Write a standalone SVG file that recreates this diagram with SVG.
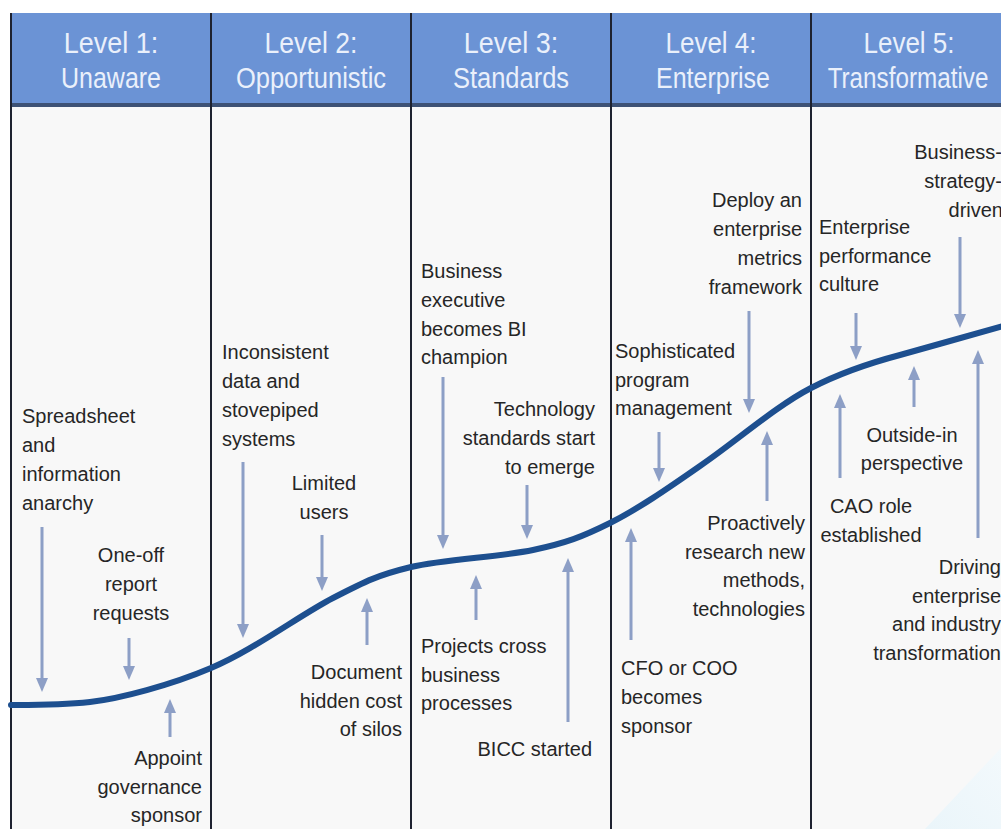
<svg xmlns="http://www.w3.org/2000/svg" width="1001" height="829" viewBox="0 0 1001 829">
  <defs>
    <style>
      .hdr { font-family: "Liberation Sans", Arial, sans-serif; font-size: 25px; fill: #EAF0FB; text-anchor: middle; }
      .lbl { font-family: "Liberation Sans", Arial, sans-serif; font-size: 20px; fill: #262626; }
      .mid { text-anchor: middle; }
      .end { text-anchor: end; }
      .col { stroke: #1E2230; stroke-width: 2; fill: none; }
      .arrow { stroke: #8D9FC6; stroke-width: 3; fill: none; marker-end: url(#head); }
      .curve { stroke: #1D4F8F; stroke-width: 6; fill: none; stroke-linecap: round; }
    </style>
    <marker id="head" markerUnits="userSpaceOnUse" markerWidth="14" markerHeight="12" refX="6" refY="6" orient="auto">
      <path d="M0,0 L14,6 L0,12 z" fill="#8D9FC6"/>
    </marker>
    <linearGradient id="corner" x1="0" y1="1" x2="1" y2="0">
      <stop offset="0" stop-color="#EAF5FA"/>
      <stop offset="1" stop-color="#F3F9FC"/>
    </linearGradient>
  </defs>

  <!-- page and body -->
  <rect x="0" y="0" width="1001" height="829" fill="#FFFFFF"/>
  <rect x="11" y="104" width="990" height="725" fill="#F8F8F8"/>
  <path d="M925,829 L1001,748 L1001,829 z" fill="url(#corner)"/>

  <!-- header band -->
  <rect x="11" y="13" width="990" height="91" fill="#6B93D5"/>
  <rect x="11" y="103" width="990" height="4" fill="#3E5275"/>

  <!-- column rules -->
  <g id="columns">
    <path class="col" d="M11,13 V829"/>
    <path class="col" d="M211,13 V829"/>
    <path class="col" d="M411,13 V829"/>
    <path class="col" d="M611,13 V829"/>
    <path class="col" d="M811,13 V829"/>
  </g>

  <!-- level headings (tall, narrow lettering) -->
  <g id="level1-head">
    <text class="hdr" transform="translate(111,53) scale(1.08,1.2)">Level 1:</text>
    <text class="hdr" transform="translate(111,88) scale(1,1.2)">Unaware</text>
  </g>
  <g id="level2-head">
    <text class="hdr" transform="translate(311,53) scale(1.06,1.2)">Level 2:</text>
    <text class="hdr" transform="translate(311,88) scale(1.02,1.2)">Opportunistic</text>
  </g>
  <g id="level3-head">
    <text class="hdr" transform="translate(511,53) scale(1.08,1.2)">Level 3:</text>
    <text class="hdr" transform="translate(511,88) scale(1.02,1.2)">Standards</text>
  </g>
  <g id="level4-head">
    <text class="hdr" transform="translate(711,53) scale(1.04,1.2)">Level 4:</text>
    <text class="hdr" transform="translate(713,88) scale(1,1.2)">Enterprise</text>
  </g>
  <g id="level5-head">
    <text class="hdr" transform="translate(909,53) scale(1.04,1.2)">Level 5:</text>
    <text class="hdr" transform="translate(908,88) scale(0.97,1.2)">Transformative</text>
  </g>

  <!-- maturity curve -->
  <g id="curve">
    <path class="curve" d="M11,705 C30,705 60,705.3 90,702 C120,698.7 171,685 211,668 C252,651 300,615 333,598 C366,581 378,575 411,567 C444,559 500,557 533,550 C566,543 582,537 610,523 C638,509 667,489 700,466 C734,443 776,406 811,388 C840,373 866,364 900,355 C932,346 986,331 1003,326"/>
  </g>

  <!-- connectors: pointers onto the curve -->
  <g id="connectors">
    <path class="arrow" d="M42,527 V684"/>
    <path class="arrow" d="M129,638 V672"/>
    <path class="arrow" d="M170,737 V707"/>

    <path class="arrow" d="M243,462 V630"/>
    <path class="arrow" d="M322,535 V583"/>
    <path class="arrow" d="M367,645 V606"/>

    <path class="arrow" d="M443,377 V541"/>
    <path class="arrow" d="M527,485 V531"/>
    <path class="arrow" d="M476,620 V583"/>
    <path class="arrow" d="M568,722 V566"/>

    <path class="arrow" d="M659,432 V474"/>
    <path class="arrow" d="M749,311 V405"/>
    <path class="arrow" d="M767,501 V439"/>
    <path class="arrow" d="M631,640 V536"/>

    <path class="arrow" d="M856,313 V352"/>
    <path class="arrow" d="M960,237 V320"/>
    <path class="arrow" d="M914,407 V374"/>
    <path class="arrow" d="M840,478 V402"/>
    <path class="arrow" d="M978,538 V358"/>
  </g>

  <!-- Level 1 notes -->
  <g id="spreadsheet-anarchy">
    <text class="lbl" x="22" y="423">Spreadsheet</text>
    <text class="lbl" x="22" y="452">and</text>
    <text class="lbl" x="22" y="481">information</text>
    <text class="lbl" x="22" y="510">anarchy</text>
  </g>
  <g id="one-off-reports">
    <text class="lbl mid" x="131" y="562">One-off</text>
    <text class="lbl mid" x="131" y="591">report</text>
    <text class="lbl mid" x="131" y="620">requests</text>
  </g>
  <g id="appoint-sponsor">
    <text class="lbl end" x="202" y="765">Appoint</text>
    <text class="lbl end" x="202" y="794">governance</text>
    <text class="lbl end" x="202" y="822">sponsor</text>
  </g>

  <!-- Level 2 notes -->
  <g id="inconsistent-data">
    <text class="lbl" x="222" y="359">Inconsistent</text>
    <text class="lbl" x="222" y="388">data and</text>
    <text class="lbl" x="222" y="417">stovepiped</text>
    <text class="lbl" x="222" y="446">systems</text>
  </g>
  <g id="limited-users">
    <text class="lbl mid" x="324" y="490">Limited</text>
    <text class="lbl mid" x="324" y="519">users</text>
  </g>
  <g id="document-cost">
    <text class="lbl end" x="402" y="679">Document</text>
    <text class="lbl end" x="402" y="708">hidden cost</text>
    <text class="lbl end" x="402" y="736">of silos</text>
  </g>

  <!-- Level 3 notes -->
  <g id="bi-champion">
    <text class="lbl" x="421" y="278">Business</text>
    <text class="lbl" x="421" y="307">executive</text>
    <text class="lbl" x="421" y="336">becomes BI</text>
    <text class="lbl" x="421" y="364">champion</text>
  </g>
  <g id="tech-standards">
    <text class="lbl end" x="595" y="416">Technology</text>
    <text class="lbl end" x="595" y="445">standards start</text>
    <text class="lbl end" x="595" y="474">to emerge</text>
  </g>
  <g id="cross-processes">
    <text class="lbl" x="421" y="653">Projects cross</text>
    <text class="lbl" x="421" y="682">business</text>
    <text class="lbl" x="421" y="710">processes</text>
  </g>
  <g id="bicc-started">
    <text class="lbl end" x="592" y="756">BICC started</text>
  </g>

  <!-- Level 4 notes -->
  <g id="metrics-framework">
    <text class="lbl end" x="802" y="207">Deploy an</text>
    <text class="lbl end" x="802" y="236">enterprise</text>
    <text class="lbl end" x="802" y="265">metrics</text>
    <text class="lbl end" x="802" y="294">framework</text>
  </g>
  <g id="program-management">
    <text class="lbl" x="615" y="358">Sophisticated</text>
    <text class="lbl" x="615" y="387">program</text>
    <text class="lbl" x="615" y="415">management</text>
  </g>
  <g id="research-methods">
    <text class="lbl end" x="805" y="530">Proactively</text>
    <text class="lbl end" x="805" y="559">research new</text>
    <text class="lbl end" x="805" y="587">methods,</text>
    <text class="lbl end" x="805" y="616">technologies</text>
  </g>
  <g id="cfo-sponsor">
    <text class="lbl" x="621" y="675">CFO or COO</text>
    <text class="lbl" x="621" y="704">becomes</text>
    <text class="lbl" x="621" y="733">sponsor</text>
  </g>

  <!-- Level 5 notes -->
  <g id="strategy-driven">
    <text class="lbl end" x="1002" y="159">Business-</text>
    <text class="lbl end" x="1002" y="188">strategy-</text>
    <text class="lbl end" x="1003" y="217">driven</text>
  </g>
  <g id="performance-culture">
    <text class="lbl" x="819" y="234">Enterprise</text>
    <text class="lbl" x="819" y="263">performance</text>
    <text class="lbl" x="819" y="291">culture</text>
  </g>
  <g id="outside-in">
    <text class="lbl mid" x="912" y="442">Outside-in</text>
    <text class="lbl mid" x="912" y="470">perspective</text>
  </g>
  <g id="cao-role">
    <text class="lbl mid" x="871" y="513">CAO role</text>
    <text class="lbl mid" x="871" y="542">established</text>
  </g>
  <g id="industry-transformation">
    <text class="lbl end" x="1001" y="574">Driving</text>
    <text class="lbl end" x="1001" y="603">enterprise</text>
    <text class="lbl end" x="1001" y="631">and industry</text>
    <text class="lbl end" x="1001" y="660">transformation</text>
  </g>
</svg>
